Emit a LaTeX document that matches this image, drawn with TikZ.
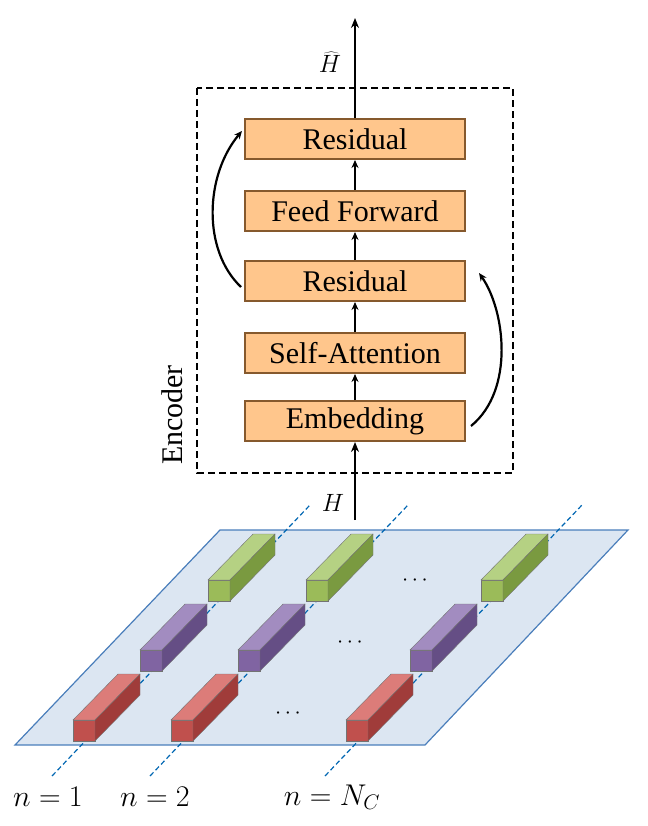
\RequirePackage{fix-cm}
\documentclass[tikz,border=0pt]{standalone}
\usepackage{fontspec}
\setmainfont{Liberation Serif}
\usetikzlibrary{arrows.meta}
\begin{document}
\begin{tikzpicture}[x=1pt,y=-1pt,
  blk/.style={draw=brown!70!black,line width=2pt,fill=orange!45,minimum width=220pt,minimum height=40pt,inner sep=0pt,font=\fontsize{30}{32}\selectfont},
  arr/.style={-{Stealth[length=10pt,width=8pt]},line width=2.6pt},
  sarr/.style={-{Stealth[length=8pt,width=7pt]},line width=2.2pt},
  dl/.style={dash pattern=on 5pt off 3pt,draw=blue!50!black!60!cyan,line width=1.2pt},
  lab/.style={font=\fontsize{30}{34}\selectfont}]
\useasboundingbox (0,0) rectangle (647,826);
\newcommand\cub[5]{% x y front top side
  \fill[#3,draw=black!55] (#1,#2) rectangle ++(22,21);
  \fill[#4,draw=black!55] (#1,#2) -- ++(22,0) -- ++(45,-46) -- ++(-22,0) -- cycle;
  \fill[#5,draw=black!55] (#1+22,#2) -- ++(0,21) -- ++(45,-46) -- ++(0,-21) -- cycle;}
\definecolor{pl}{HTML}{DCE6F2}\definecolor{pb}{HTML}{4A7EBB}
\fill[pl,draw=pb,line width=1.2pt] (220,530) -- (628,530) -- (425,745) -- (15,745) -- cycle;
\coordinate (d1a) at (52,776); \coordinate (d1b) at (310,505);
\coordinate (d2a) at (150,776); \coordinate (d2b) at (408,505);
\coordinate (d3a) at (325,776); \coordinate (d3b) at (582,505);
\draw[dl] (d1a) -- (d1b); \draw[dl] (d2a) -- (d2b); \draw[dl] (d3a) -- (d3b);
\definecolor{gf}{HTML}{9BBB59}\definecolor{gt}{HTML}{B5D183}\definecolor{gs}{HTML}{7A9A40}
\definecolor{pf}{HTML}{8064A2}\definecolor{pt}{HTML}{A28CC0}\definecolor{ps}{HTML}{654E85}
\definecolor{rf}{HTML}{C0504D}\definecolor{rt}{HTML}{DC7C79}\definecolor{rs}{HTML}{A03C3A}
\foreach \x in {208,306,481} {\cub{\x}{580}{gf}{gt}{gs}}
\foreach \x in {140,238,410} {\cub{\x}{650}{pf}{pt}{ps}}
\foreach \x in {73,171,346} {\cub{\x}{720}{rf}{rt}{rs}}
\node[font=\fontsize{22}{24}\selectfont] at (415,581) {$\cdots$};
\node[font=\fontsize{22}{24}\selectfont] at (350,643) {$\cdots$};
\node[font=\fontsize{22}{24}\selectfont] at (288,714) {$\cdots$};
\node[lab] (l1) at (48,797) {$n=1$};
\node[lab] (l2) at (155,797) {$n=2$};
\node[lab] (l3) at (332,797) {$n=N_C$};
% encoder
\draw[dash pattern=on 7pt off 4pt,line width=1.5pt] (197,88) rectangle (513,473);
\node[rotate=90,font=\fontsize{30}{32}\selectfont] (enc) at (172,415) {Encoder};
\node[blk] (r1) at (355,139) {Residual};
\node[blk] (ff) at (355,211) {Feed Forward};
\node[blk] (r2) at (355,281) {Residual};
\node[blk] (sa) at (355,353) {Self-Attention};
\node[blk] (em) at (355,421) {Embedding};
\coordinate (in) at (355,520);
\coordinate (out) at (355,18);
\draw[arr] (in) -- (em);
\draw[arr] (r1) -- (out);
\draw[sarr] (em) -- (sa); \draw[sarr] (sa) -- (r2);
\draw[sarr] (r2) -- (ff); \draw[sarr] (ff) -- (r1);
\node[font=\fontsize{25}{28}\selectfont] at (333,503) {$H$};
\node[font=\fontsize{25}{28}\selectfont] at (330,62) {$\widehat{H}$};
\draw[sarr] ([xshift=-3pt,yshift=-6pt]r2.west) .. controls (202,250) and (205,175) .. ([xshift=-2pt,yshift=8pt]r1.west);
\draw[sarr] ([xshift=5pt,yshift=-5pt]em.east) .. controls (515,390) and (505,310) .. ([xshift=13pt,yshift=8pt]r2.east);
\end{tikzpicture}
\end{document}
